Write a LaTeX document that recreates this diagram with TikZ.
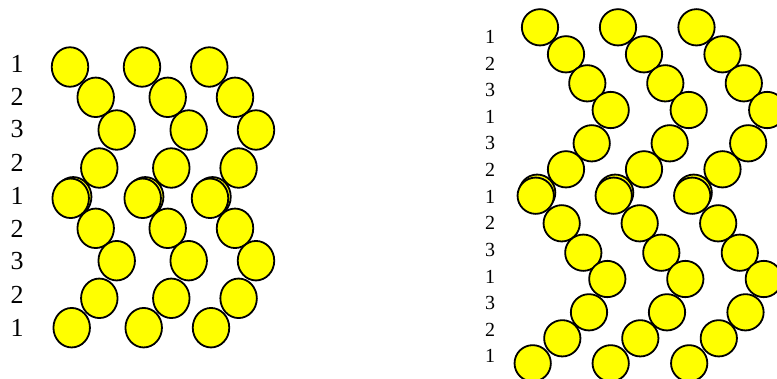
\documentclass[tikz,border=0pt]{standalone}
\usepackage{fontspec}
\setmainfont{Liberation Serif}
\usetikzlibrary{shapes.geometric}
\definecolor{ballyellow}{RGB}{255,255,0}
\begin{document}
\begin{tikzpicture}[x=1pt,y=-1pt,
  lball/.style={ellipse,draw=black,fill=ballyellow,line width=1.8pt,minimum width=36.5pt,minimum height=39.5pt,inner sep=0pt},
  rball/.style={circle,draw=black,fill=ballyellow,line width=1.8pt,minimum size=36.3pt,inner sep=0pt},
  llab/.style={font=\fontsize{26}{26}\selectfont,inner sep=0pt},
  rlab/.style={font=\fontsize{20}{20}\selectfont,inner sep=0pt}]
\useasboundingbox (0,0) rectangle (777,378);
% hidden second balls behind the doubled rows
\node[lball] (lbackA) at (73.2,196.8) {};
\node[lball] (lbackB) at (145.2,196.8) {};
\node[lball] (lbackC) at (212.5,196.8) {};
\node[rball] (rbackA) at (537.2,192.7) {};
\node[rball] (rbackB) at (615.2,192.7) {};
\node[rball] (rbackC) at (693.7,192.7) {};
% left stack
\foreach \i/\x/\y in {1/70/67,2/95.7/97.3,3/116.7/130,4/99.3/168,5/70.7/198.3,6/95.7/228.3,7/116.7/260.7,8/99.3/298.3,9/71.7/327.7}{
  \node[lball] (la\i) at (\x,\y) {};
  \node[lball] (lb\i) at (\x+72,\y) {};
  \node[lball] (lc\i) at (\x+139.3,\y) {};
}
% right stack
\foreach \i/\x/\y in {1/540/27.3,2/566/54.3,3/587.3/83.3,4/610.7/110,5/591.7/143.3,6/566/169.3,7/535.7/195.7,8/561.7/223.3,9/583.3/252.7,10/607.3/279,11/589/312.3,12/562.3/338.3,13/532.7/363.3}{
  \node[rball] (ra\i) at (\x,\y) {};
  \node[rball] (rb\i) at (\x+78,\y) {};
  \node[rball] (rc\i) at (\x+156.5,\y) {};
}
% labels
\foreach \i/\t in {1/1,2/2,3/3,4/2,5/1,6/2,7/3,8/2,9/1}{
  \node[llab] (ll\i) at (17,{63.5+33*(\i-1)}) {\t};
}
\foreach \i/\t in {1/1,2/2,3/3,4/1,5/3,6/2,7/1,8/2,9/3,10/1,11/3,12/2,13/1}{
  \node[rlab] (rl\i) at (490,{37+26.6*(\i-1)}) {\t};
}
\end{tikzpicture}
\end{document}
